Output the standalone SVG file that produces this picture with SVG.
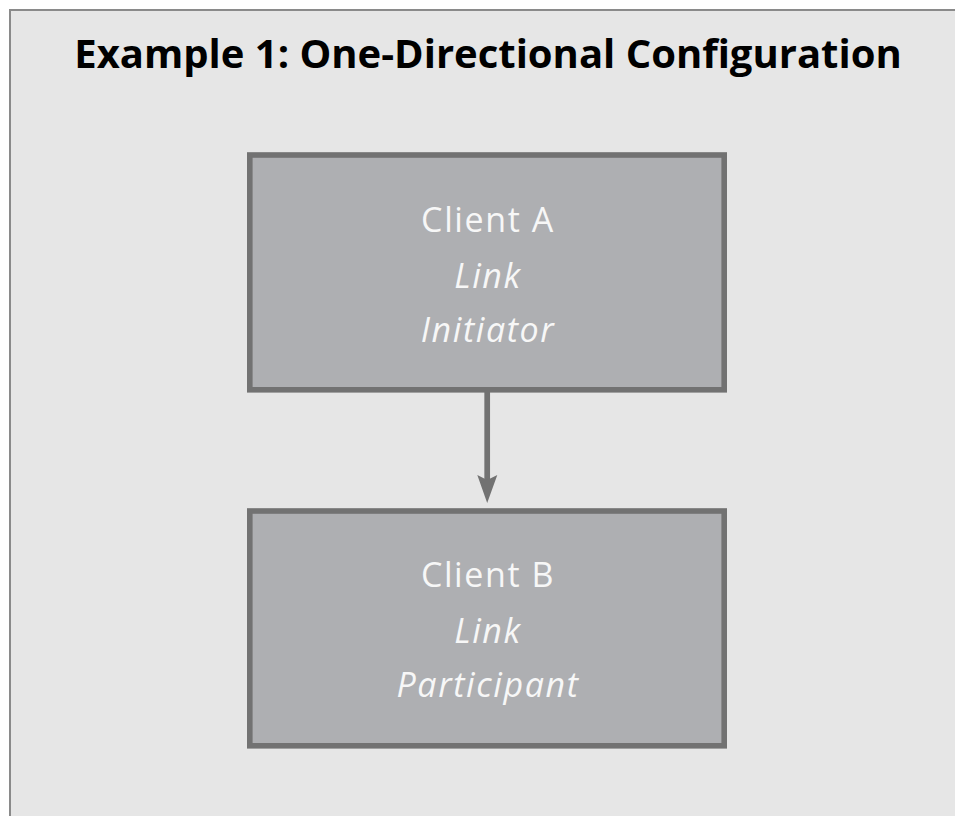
<svg xmlns="http://www.w3.org/2000/svg" width="955" height="816" viewBox="0 0 955 816">
<defs>
<style>
.node rect{fill:#aeafb2;stroke:#727272;stroke-width:5.6}
.lbl{font-family:"Open Sans","Liberation Sans",sans-serif;font-size:34px;letter-spacing:1.6px;fill:#f7f7f7;text-anchor:middle}
.it{font-style:italic}
.title{font-family:"Open Sans","Liberation Sans",sans-serif;font-weight:bold;font-size:40px;fill:#000;text-anchor:middle}
</style>
</defs>
<rect x="0" y="0" width="955" height="816" fill="#ffffff"/>
<rect x="10" y="10" width="1000" height="1000" fill="#e6e6e6" stroke="#8a8a8a" stroke-width="2"/>
<text class="title" x="488" y="68">Example 1: One-Directional Configuration</text>
<g id="clientA" class="node">
<rect x="249.8" y="155" width="474.4" height="234.8"/>
<text class="lbl" x="488" y="232">Client A</text>
<text class="lbl it" x="488" y="288">Link</text>
<text class="lbl it" x="488" y="342">Initiator</text>
</g>
<g id="clientB" class="node">
<rect x="249.8" y="511" width="474.4" height="234.8"/>
<text class="lbl" x="488" y="587">Client B</text>
<text class="lbl it" x="488" y="643">Link</text>
<text class="lbl it" x="488" y="697">Participant</text>
</g>
<g id="connectors">
<line x1="487.2" y1="392" x2="487.2" y2="480" stroke="#727272" stroke-width="5.7"/>
<polygon points="477.3,475 487.2,480 497.3,475 487.2,503" fill="#727272"/>
</g>
</svg>
